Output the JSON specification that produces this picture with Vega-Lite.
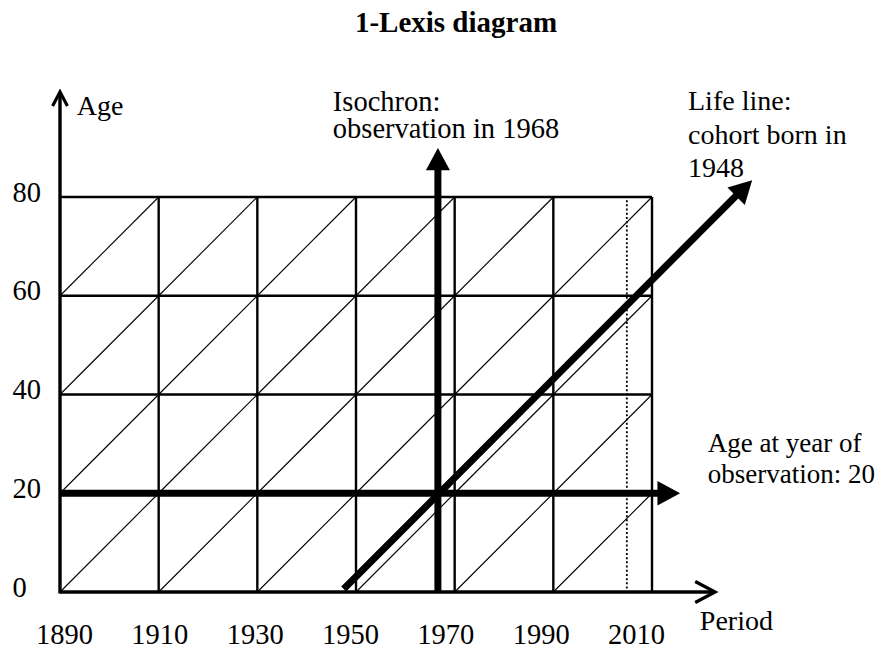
{
  "$schema": "https://vega.github.io/schema/vega-lite/v6.json",
  "width": 592,
  "height": 395,
  "autosize": "none",
  "padding": {"left": 60, "top": 197, "right": 229, "bottom": 56},
  "background": "white",
  "config": {"view": {"stroke": null}},
  "title": {
    "text": "1-Lexis diagram",
    "font": "Liberation Serif",
    "fontSize": 29,
    "fontWeight": "bold",
    "color": "black",
    "anchor": "middle",
    "frame": "group",
    "dx": 100,
    "baseline": "alphabetic",
    "offset": 24
  },
  "datasets": {
    "grid": [
      {"p": 1910, "a": 0, "p2": 1910, "a2": 80},
      {"p": 1930, "a": 0, "p2": 1930, "a2": 80},
      {"p": 1950, "a": 0, "p2": 1950, "a2": 80},
      {"p": 1970, "a": 0, "p2": 1970, "a2": 80},
      {"p": 1990, "a": 0, "p2": 1990, "a2": 80},
      {"p": 2010, "a": 0, "p2": 2010, "a2": 80},
      {"p": 1890, "a": 20, "p2": 2010, "a2": 20},
      {"p": 1890, "a": 40, "p2": 2010, "a2": 40},
      {"p": 1890, "a": 60, "p2": 2010, "a2": 60},
      {"p": 1890, "a": 80, "p2": 2010, "a2": 80}
    ],
    "diag": [
      {"p": 1890, "a": 0, "p2": 1910, "a2": 20},
      {"p": 1890, "a": 20, "p2": 1910, "a2": 40},
      {"p": 1890, "a": 40, "p2": 1910, "a2": 60},
      {"p": 1890, "a": 60, "p2": 1910, "a2": 80},
      {"p": 1910, "a": 0, "p2": 1930, "a2": 20},
      {"p": 1910, "a": 20, "p2": 1930, "a2": 40},
      {"p": 1910, "a": 40, "p2": 1930, "a2": 60},
      {"p": 1910, "a": 60, "p2": 1930, "a2": 80},
      {"p": 1930, "a": 0, "p2": 1950, "a2": 20},
      {"p": 1930, "a": 20, "p2": 1950, "a2": 40},
      {"p": 1930, "a": 40, "p2": 1950, "a2": 60},
      {"p": 1930, "a": 60, "p2": 1950, "a2": 80},
      {"p": 1950, "a": 0, "p2": 1970, "a2": 20},
      {"p": 1950, "a": 20, "p2": 1970, "a2": 40},
      {"p": 1950, "a": 40, "p2": 1970, "a2": 60},
      {"p": 1950, "a": 60, "p2": 1970, "a2": 80},
      {"p": 1970, "a": 0, "p2": 1990, "a2": 20},
      {"p": 1970, "a": 20, "p2": 1990, "a2": 40},
      {"p": 1970, "a": 40, "p2": 1990, "a2": 60},
      {"p": 1970, "a": 60, "p2": 1990, "a2": 80},
      {"p": 1990, "a": 0, "p2": 2010, "a2": 20},
      {"p": 1990, "a": 20, "p2": 2010, "a2": 40},
      {"p": 1990, "a": 40, "p2": 2010, "a2": 60},
      {"p": 1990, "a": 60, "p2": 2010, "a2": 80}
    ],
    "axes": [
      {"p": 1890, "a": -0.3, "p2": 1890, "a2": 101},
      {"p": 1890, "a": 0, "p2": 2022.5, "a2": 0}
    ],
    "thick": [
      {"name": "isochron", "p": 1966.6, "a": 0, "p2": 1966.6, "a2": 86},
      {"name": "age20", "p": 1890, "a": 20, "p2": 2011.5, "a2": 20},
      {"name": "lifeline", "p": 1947.5, "a": 0.6, "p2": 2027.1, "a2": 80.3}
    ],
    "dotted": [
      {"p": 2004.9, "a": 0.7, "p2": 2004.9, "a2": 80}
    ],
    "heads": [
      {"name": "isochron", "p": 1966.6, "a": 89.9},
      {"name": "age20", "p": 2015.7, "a": 20},
      {"name": "lifeline", "p": 2030.3, "a": 83.4},
      {"name": "yaxis", "p": 1890, "a": 101.3},
      {"name": "xaxis", "p": 2022.8, "a": 0}
    ],
    "notes": [
      {"g": "isochron", "t": "Isochron:", "p": 1945.3, "a": 97.4},
      {"g": "isochron", "t": "observation in 1968", "p": 1945.3, "a": 91.9},
      {"g": "lifeline", "t": "Life line:", "p": 2017.3, "a": 97.6},
      {"g": "lifeline", "t": "cohort born in", "p": 2017.3, "a": 90.7},
      {"g": "lifeline", "t": "1948", "p": 2017.3, "a": 84.0},
      {"g": "age20", "t": "Age at year of", "p": 2021.3, "a": 28.4},
      {"g": "age20", "t": "observation: 20", "p": 2021.3, "a": 22.1},
      {"g": "axis", "t": "Age", "p": 1893.4, "a": 96.7},
      {"g": "axis", "t": "Period", "p": 2019.7, "a": -7.7}
    ],
    "ticks": [
      {"p": 1890}, {"p": 1910}, {"p": 1930}, {"p": 1950}, {"p": 1970}, {"p": 1990}, {"p": 2010}
    ]
  },
  "layer": [
    {
      "encoding": {
        "x": {"field": "p", "type": "quantitative", "scale": {"domain": [1890, 2010], "nice": false, "zero": false}, "axis": null},
        "y": {
          "field": "a", "type": "quantitative",
          "scale": {"domain": [0, 80], "nice": false, "zero": false},
          "axis": {
            "values": [0, 20, 40, 60, 80],
            "domain": false, "ticks": false, "tickSize": 0, "grid": false,
            "labelAlign": "left", "labelPadding": 48, "labelBaseline": "alphabetic", "labelOffset": 4,
            "labelFont": "Liberation Serif", "labelFontSize": 28.5, "labelColor": "black",
            "title": null
          }
        }
      },
      "layer": [
        {
          "data": {"name": "diag"},
          "mark": {"type": "rule", "color": "black", "strokeWidth": 1.1},
          "encoding": {"x2": {"field": "p2"}, "y2": {"field": "a2"}}
        },
        {
          "data": {"name": "grid"},
          "mark": {"type": "rule", "color": "black", "strokeWidth": 2.4},
          "encoding": {"x2": {"field": "p2"}, "y2": {"field": "a2"}}
        },
        {
          "data": {"name": "dotted"},
          "mark": {"type": "rule", "color": "black", "strokeWidth": 1.8, "strokeDash": [2, 2.2]},
          "encoding": {"x2": {"field": "p2"}, "y2": {"field": "a2"}}
        },
        {
          "data": {"name": "axes"},
          "mark": {"type": "rule", "color": "black", "strokeWidth": 3.4},
          "encoding": {"x2": {"field": "p2"}, "y2": {"field": "a2"}}
        },
        {
          "data": {"name": "thick"},
          "mark": {"type": "rule", "color": "black", "strokeWidth": 7},
          "encoding": {"x2": {"field": "p2"}, "y2": {"field": "a2"}}
        },
        {
          "data": {"name": "heads"},
          "transform": [{"filter": "datum.name === 'isochron'"}],
          "mark": {"type": "point", "shape": "M0,0L1,1.85L-1,1.85Z", "filled": true, "color": "black", "opacity": 1, "size": 576, "angle": 0}
        },
        {
          "data": {"name": "heads"},
          "transform": [{"filter": "datum.name === 'age20'"}],
          "mark": {"type": "point", "shape": "M0,0L1,1.85L-1,1.85Z", "filled": true, "color": "black", "opacity": 1, "size": 600, "angle": 90}
        },
        {
          "data": {"name": "heads"},
          "transform": [{"filter": "datum.name === 'lifeline'"}],
          "mark": {"type": "point", "shape": "M0,0L1,1.85L-1,1.85Z", "filled": true, "color": "black", "opacity": 1, "size": 600, "angle": 45}
        },
        {
          "data": {"name": "heads"},
          "transform": [{"filter": "datum.name === 'yaxis'"}],
          "mark": {"type": "point", "shape": "M-1,1.9L0,0L1,1.9", "filled": false, "color": "black", "opacity": 1, "strokeWidth": 3.2, "size": 219, "angle": 0}
        },
        {
          "data": {"name": "heads"},
          "transform": [{"filter": "datum.name === 'xaxis'"}],
          "mark": {"type": "point", "shape": "M-1,1.9L0,0L1,1.9", "filled": false, "color": "black", "opacity": 1, "strokeWidth": 3.2, "size": 441, "angle": 90}
        },
        {
          "data": {"name": "notes"},
          "transform": [{"filter": "datum.g === 'isochron'"}],
          "mark": {"type": "text", "align": "left", "baseline": "alphabetic", "font": "Liberation Serif", "fontSize": 28.5, "color": "black"},
          "encoding": {"text": {"field": "t"}}
        },
        {
          "data": {"name": "notes"},
          "transform": [{"filter": "datum.g === 'lifeline' || datum.g === 'axis'"}],
          "mark": {"type": "text", "align": "left", "baseline": "alphabetic", "font": "Liberation Serif", "fontSize": 28, "color": "black"},
          "encoding": {"text": {"field": "t"}}
        },
        {
          "data": {"name": "notes"},
          "transform": [{"filter": "datum.g === 'age20'"}],
          "mark": {"type": "text", "align": "left", "baseline": "alphabetic", "font": "Liberation Serif", "fontSize": 27, "color": "black"},
          "encoding": {"text": {"field": "t"}}
        }
      ]
    },
    {
      "data": {"name": "ticks"},
      "mark": {"type": "point", "opacity": 0},
      "encoding": {
        "x": {
          "field": "p", "type": "quantitative",
          "scale": {"domain": [1889.16, 2013.36], "nice": false, "zero": false},
          "axis": {
            "orient": "bottom",
            "values": [1890, 1910, 1930, 1950, 1970, 1990, 2010],
            "format": "d",
            "domain": false, "ticks": false, "tickSize": 0, "grid": false,
            "labelFlush": false, "labelAngle": 0,
            "labelPadding": 51, "labelBaseline": "alphabetic",
            "labelFont": "Liberation Serif", "labelFontSize": 28.5, "labelColor": "black",
            "title": null
          }
        }
      }
    }
  ],
  "resolve": {"scale": {"x": "independent"}}
}
